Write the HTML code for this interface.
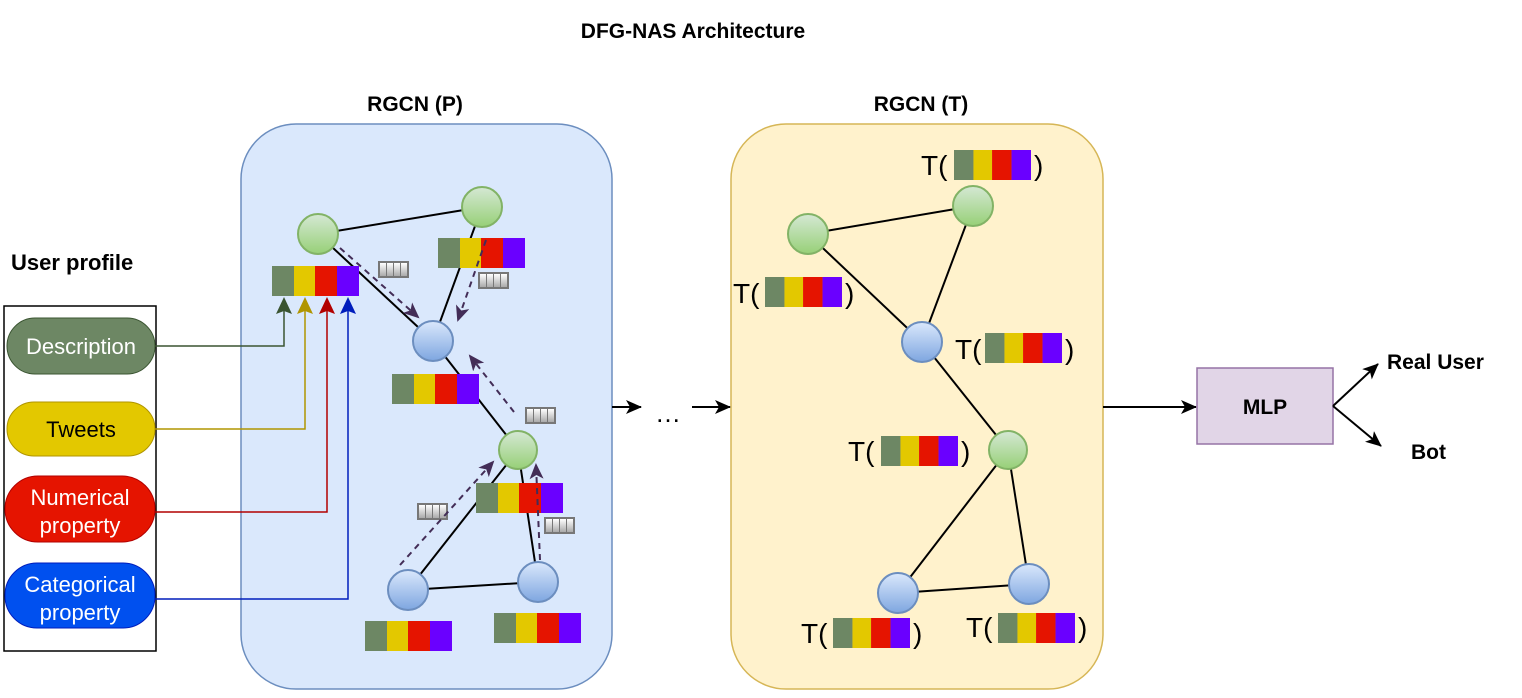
<!DOCTYPE html>
<html><head><meta charset="utf-8"><style>body{margin:0;background:#fff}svg{display:block}text{font-family:"Liberation Sans",sans-serif}</style></head><body>
<svg width="1522" height="698" viewBox="0 0 1522 698" xmlns="http://www.w3.org/2000/svg">
<defs>
<linearGradient id="gg" x1="0" y1="0" x2="0" y2="1"><stop offset="0" stop-color="#d5e8d4"/><stop offset="1" stop-color="#97d077"/></linearGradient>
<linearGradient id="bg" x1="0" y1="0" x2="0" y2="1"><stop offset="0" stop-color="#dae8fc"/><stop offset="1" stop-color="#7ea6e0"/></linearGradient>
<linearGradient id="ic" x1="0" y1="0" x2="0" y2="1"><stop offset="0" stop-color="#fff"/><stop offset="1" stop-color="#aaa"/></linearGradient>
<marker id="ah" markerWidth="16" markerHeight="14" refX="15" refY="7" orient="auto" markerUnits="userSpaceOnUse"><path d="M0,0 L16,7 L0,14 L4,7 z" fill="#000"/></marker>
<marker id="ap" markerWidth="16" markerHeight="14" refX="14" refY="7" orient="auto" markerUnits="userSpaceOnUse"><path d="M0,0 L16,7 L0,14 L4,7 z" fill="#432d57"/></marker>
<g id="bar"><rect x="0" y="0" width="22" height="30" fill="#6d8764"/><rect x="22" y="0" width="21" height="30" fill="#e3c800"/><rect x="43" y="0" width="22" height="30" fill="#e51400"/><rect x="65" y="0" width="22" height="30" fill="#6a00ff"/></g>
<g id="icn"><rect x="0" y="0" width="31" height="17" fill="#777"/><rect x="2" y="2" width="6" height="13" fill="url(#ic)"/><rect x="9" y="2" width="6" height="13" fill="url(#ic)"/><rect x="16" y="2" width="6" height="13" fill="url(#ic)"/><rect x="23" y="2" width="6" height="13" fill="url(#ic)"/></g>
</defs>
<text x="693" y="38" text-anchor="middle" font-size="21" font-weight="bold">DFG-NAS Architecture</text>
<text x="415" y="111" text-anchor="middle" font-size="21" font-weight="bold">RGCN (P)</text>
<text x="921" y="111" text-anchor="middle" font-size="21" font-weight="bold">RGCN (T)</text>
<text x="11" y="270" font-size="22" font-weight="bold">User profile</text>
<rect x="241" y="124" width="371" height="565" rx="55" fill="#dae8fc" stroke="#6c8ebf" stroke-width="1.5"/>
<rect x="731" y="124" width="372" height="565" rx="55" fill="#fff2cc" stroke="#d6b656" stroke-width="1.5"/>
<rect x="4" y="306" width="152" height="345" fill="#fff" stroke="#000" stroke-width="1.5"/>
<rect x="7" y="318" width="148" height="56" rx="28" fill="#6d8764" stroke="#3a5431"/>
<text x="81" y="354" text-anchor="middle" font-size="22" fill="#fff">Description</text>
<rect x="7" y="402" width="148" height="54" rx="27" fill="#e3c800" stroke="#b09500"/>
<text x="81" y="437" text-anchor="middle" font-size="22" fill="#000">Tweets</text>
<rect x="5" y="476" width="150" height="66" rx="33" fill="#e51400" stroke="#b20000"/>
<text x="80" y="505" text-anchor="middle" font-size="22" fill="#fff">Numerical</text>
<text x="80" y="533" text-anchor="middle" font-size="22" fill="#fff">property</text>
<rect x="5" y="563" width="150" height="65" rx="32" fill="#0050ef" stroke="#001dbc"/>
<text x="80" y="592" text-anchor="middle" font-size="22" fill="#fff">Categorical</text>
<text x="80" y="620" text-anchor="middle" font-size="22" fill="#fff">property</text>
<g fill="none" stroke-width="1.5">
<path d="M155,346 H284 V300" stroke="#3a5431"/><path d="M276,314 L284,297 L292,314 L284,311z" fill="#3a5431" stroke="none"/>
<path d="M155,429 H305 V300" stroke="#b09500"/><path d="M297,314 L305,297 L313,314 L305,311z" fill="#b09500" stroke="none"/>
<path d="M155,512 H327 V300" stroke="#b20000"/><path d="M319,314 L327,297 L335,314 L327,311z" fill="#b20000" stroke="none"/>
<path d="M155,599 H348 V300" stroke="#001dbc"/><path d="M340,314 L348,297 L356,314 L348,311z" fill="#001dbc" stroke="none"/>
</g>
<g stroke="#000" stroke-width="2">
<line x1="318" y1="234" x2="482" y2="207"/><line x1="318" y1="234" x2="433" y2="341"/>
<line x1="482" y1="207" x2="433" y2="341"/><line x1="433" y1="341" x2="518" y2="450"/>
<line x1="518" y1="450" x2="408" y2="590"/><line x1="518" y1="450" x2="538" y2="582"/>
<line x1="408" y1="590" x2="538" y2="582"/>
</g>
<use href="#bar" x="272" y="266"/><use href="#bar" x="438" y="238"/><use href="#bar" x="392" y="374"/>
<use href="#bar" x="476" y="483"/><use href="#bar" x="365" y="621"/><use href="#bar" x="494" y="613"/>
<use href="#icn" x="378" y="261"/><use href="#icn" x="478" y="272"/><use href="#icn" x="525" y="407"/>
<use href="#icn" x="417" y="503"/><use href="#icn" x="544" y="517"/>
<g stroke="#432d57" stroke-width="2" stroke-dasharray="6,5" fill="none">
<line x1="340" y1="248" x2="418" y2="317" marker-end="url(#ap)"/>
<line x1="486" y1="240" x2="458" y2="320" marker-end="url(#ap)"/>
<line x1="514" y1="412" x2="470" y2="356" marker-end="url(#ap)"/>
<line x1="400" y1="565" x2="493" y2="462" marker-end="url(#ap)"/>
<line x1="540" y1="560" x2="536" y2="465" marker-end="url(#ap)"/>
</g>
<g stroke-width="2">
<circle cx="318" cy="234" r="20" fill="url(#gg)" stroke="#82b366"/>
<circle cx="482" cy="207" r="20" fill="url(#gg)" stroke="#82b366"/>
<circle cx="433" cy="341" r="20" fill="url(#bg)" stroke="#6c8ebf"/>
<circle cx="518" cy="450" r="19" fill="url(#gg)" stroke="#82b366"/>
<circle cx="408" cy="590" r="20" fill="url(#bg)" stroke="#6c8ebf"/>
<circle cx="538" cy="582" r="20" fill="url(#bg)" stroke="#6c8ebf"/>
</g>
<line x1="612" y1="407" x2="641" y2="407" stroke="#000" stroke-width="2" marker-end="url(#ah)"/>
<text x="668" y="422" text-anchor="middle" font-size="26">…</text>
<line x1="692" y1="407" x2="730" y2="407" stroke="#000" stroke-width="2" marker-end="url(#ah)"/>
<g stroke="#000" stroke-width="2">
<line x1="808" y1="234" x2="973" y2="206"/><line x1="808" y1="234" x2="922" y2="342"/>
<line x1="973" y1="206" x2="922" y2="342"/><line x1="922" y1="342" x2="1008" y2="450"/>
<line x1="1008" y1="450" x2="898" y2="593"/><line x1="1008" y1="450" x2="1029" y2="584"/>
<line x1="898" y1="593" x2="1029" y2="584"/>
</g>
<g stroke-width="2">
<circle cx="808" cy="234" r="20" fill="url(#gg)" stroke="#82b366"/>
<circle cx="973" cy="206" r="20" fill="url(#gg)" stroke="#82b366"/>
<circle cx="922" cy="342" r="20" fill="url(#bg)" stroke="#6c8ebf"/>
<circle cx="1008" cy="450" r="19" fill="url(#gg)" stroke="#82b366"/>
<circle cx="898" cy="593" r="20" fill="url(#bg)" stroke="#6c8ebf"/>
<circle cx="1029" cy="584" r="20" fill="url(#bg)" stroke="#6c8ebf"/>
</g>
<g font-size="28">
<text x="921" y="175">T(</text><use href="#bar" transform="translate(954,150) scale(0.885,1)"/><text x="1034" y="175">)</text>
<text x="733" y="303">T(</text><use href="#bar" transform="translate(765,277) scale(0.885,1)"/><text x="845" y="303">)</text>
<text x="955" y="359">T(</text><use href="#bar" transform="translate(985,333) scale(0.885,1)"/><text x="1065" y="359">)</text>
<text x="848" y="461">T(</text><use href="#bar" transform="translate(881,436) scale(0.885,1)"/><text x="961" y="461">)</text>
<text x="801" y="643">T(</text><use href="#bar" transform="translate(833,618) scale(0.885,1)"/><text x="913" y="643">)</text>
<text x="966" y="637">T(</text><use href="#bar" transform="translate(998,613) scale(0.885,1)"/><text x="1078" y="637">)</text>
</g>
<line x1="1103" y1="407" x2="1196" y2="407" stroke="#000" stroke-width="2" marker-end="url(#ah)"/>
<rect x="1197" y="368" width="136" height="76" fill="#e1d5e7" stroke="#9673a6" stroke-width="1.5"/>
<text x="1265" y="414" text-anchor="middle" font-size="21" font-weight="bold">MLP</text>
<line x1="1333" y1="406" x2="1378" y2="364" stroke="#000" stroke-width="2" marker-end="url(#ah)"/>
<line x1="1333" y1="406" x2="1381" y2="446" stroke="#000" stroke-width="2" marker-end="url(#ah)"/>
<text x="1387" y="369" font-size="21" font-weight="bold">Real User</text>
<text x="1411" y="459" font-size="21" font-weight="bold">Bot</text>
</svg>
</body></html>
